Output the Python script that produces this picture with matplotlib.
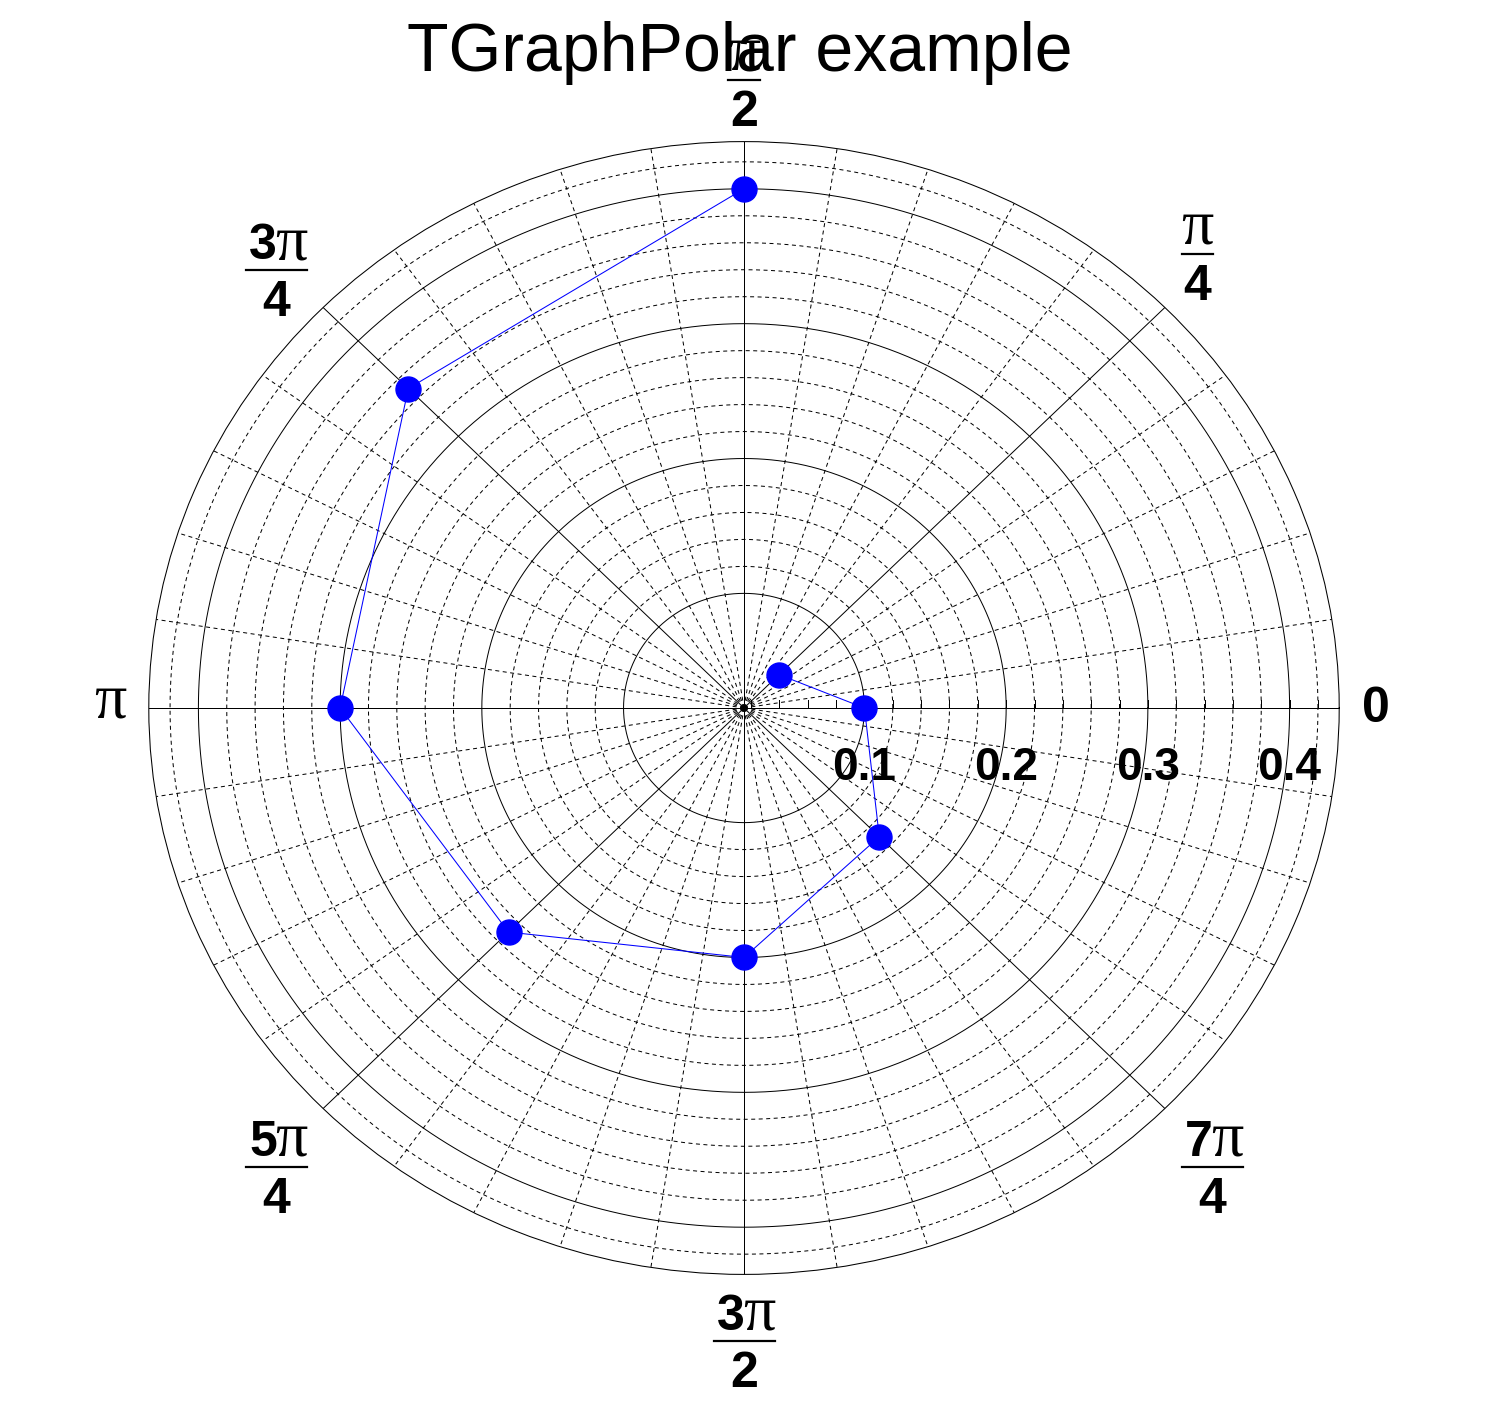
import numpy as np
import matplotlib
matplotlib.use("Agg")
import matplotlib.pyplot as plt
from matplotlib.lines import Line2D

# ---- data ----
theta_over_pi = [0.25, 0.0, -0.25, -0.5, -0.75, -1.0, -1.25, -1.5]
radius = [0.05, 0.10, 0.15, 0.20, 0.25, 0.30, 0.35, 0.40]
r_min, r_max = 0.015, 0.435
radial_labels = ["0.1", "0.2", "0.3", "0.4"]
radial_label_values = [0.1, 0.2, 0.3, 0.4]
title = "TGraphPolar example"

W, H = 1488, 1416
fig = plt.figure(figsize=(W / 100, H / 100), dpi=100)
ax = fig.add_axes([0.1, 0.1, 0.8, 0.8], projection='polar')
ax.set_aspect('auto')
ax.set_ylim(r_min, r_max)
ax.set_xticks([])
ax.set_yticks([])
ax.grid(False)
ax.spines['polar'].set_linewidth(0.75)
ax.spines['polar'].set_color('black')

LW = 0.72
dash = (0, (4, 3.5))
tt = np.linspace(0, 2 * np.pi, 721)

# circles: solid at majors, dashed at minors
for k in range(5, 22):
    r = k * 0.02
    if r > r_max:
        break
    if k % 5 == 0:
        ax.plot(tt, np.full_like(tt, r), color='k', lw=LW, zorder=1)
    else:
        ax.plot(tt, np.full_like(tt, r), color='k', lw=LW, ls=dash, zorder=1)

# spokes
for j in range(40):
    th = j * np.pi / 20
    if j % 5 == 0:
        ax.plot([th, th], [r_min, r_max], color='k', lw=LW, zorder=1)
    else:
        ax.plot([th, th], [r_min, r_max], color='k', lw=LW, ls=dash, zorder=1)

# radial axis ticks
rt = [0.02 * k for k in range(1, 22)]
ax.plot(np.zeros(len(rt)), rt, ls='none', marker=2, ms=6, mew=LW, color='k', zorder=2)

# data
theta = np.array(theta_over_pi) * np.pi
ax.plot(theta, radius, color=(0, 0, 1), lw=0.75, zorder=3, clip_on=False)
ax.plot(theta, radius, ls='none', marker='o', ms=18, mfc=(0, 0, 1), mec=(0, 0, 1),
        zorder=4, clip_on=False)

# radial labels
for lab, v in zip(radial_labels, radial_label_values):
    ax.annotate(lab, xy=(0, v), xytext=(0, -60), textcoords='offset pixels',
                ha='center', va='center', fontsize=33, fontweight='bold',
                family='Liberation Sans', zorder=5)

# ---- angular labels ----
SANS = 'Liberation Sans'
SERIF = 'Liberation Serif'
DIG = 36
PI = 46


def fx(x):
    return x / W


def fy(y):
    return 1 - y / H


def pi_only(x, y_base):
    fig.text(fx(x), fy(y_base), "\u03c0", ha='center', va='baseline',
             family=SERIF, fontsize=PI)


def frac(xc, ybar, num_digit, den, barw):
    yb = ybar - 11
    if num_digit:
        fig.text(fx(xc + 1), fy(yb), num_digit, ha='right', va='baseline',
                 family=SANS, fontweight='bold', fontsize=DIG)
        fig.text(fx(xc - 1), fy(yb), "\u03c0", ha='left', va='baseline',
                 family=SERIF, fontsize=PI)
    else:
        fig.text(fx(xc), fy(yb), "\u03c0", ha='center', va='baseline',
                 family=SERIF, fontsize=PI)
    fig.add_artist(Line2D([fx(xc - barw / 2), fx(xc + barw / 2)], [fy(ybar), fy(ybar)],
                          transform=fig.transFigure, color='k', lw=1.6))
    fig.text(fx(xc), fy(ybar + 46), den, ha='center', va='baseline',
             family=SANS, fontweight='bold', fontsize=DIG)


fig.text(fx(1376), fy(722), "0", ha='center', va='baseline', family=SANS,
         fontweight='bold', fontsize=DIG)
pi_only(110, 717)
frac(1197, 254, "", "4", 31)
frac(744, 80, "", "2", 32)
frac(276, 270, "3", "4", 61)
frac(276, 1167, "5", "4", 61)
frac(744, 1341, "3", "2", 61)
frac(1212, 1167, "7", "4", 61)

# title
fig.text(fx(740), fy(71), title, ha='center', va='baseline', family=SANS, fontsize=49)

fig.savefig("out.png", dpi=100)
